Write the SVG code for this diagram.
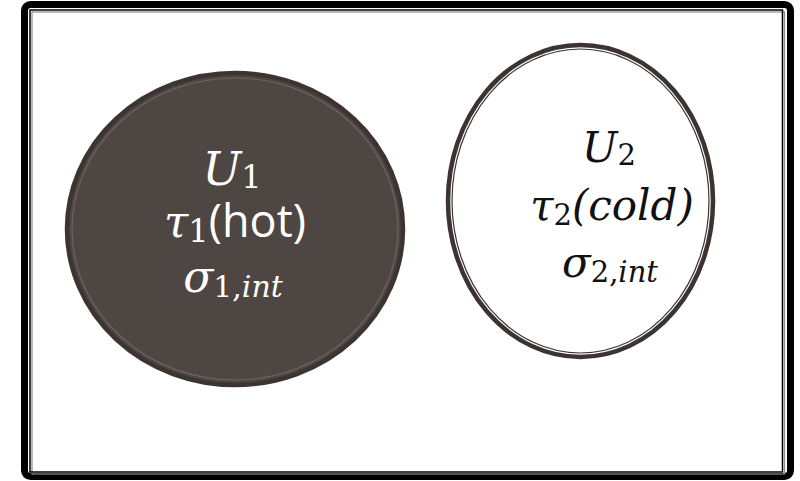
<svg xmlns="http://www.w3.org/2000/svg" width="800" height="481" viewBox="0 0 800 481">
  <style>
    .math { font-family: "DejaVu Serif", "Liberation Serif", serif; font-style: italic; }
    .up { font-style: normal; }
    .sans { font-family: "Open Sans", "Noto Sans", sans-serif; font-style: normal; }
    .lt { fill: #ffffff; }
    .dk { fill: #111111; }
  </style>
  <rect width="800" height="481" fill="#ffffff"/>
  <g id="frame">
    <rect x="24.5" y="4.5" width="766" height="472" rx="6" fill="#ffffff" stroke="#000000" stroke-width="7"/>
    <rect x="32" y="12" width="752.5" height="462" fill="none" stroke="#8a8a8a" stroke-width="1.2"/>
    <rect x="30" y="10" width="752.5" height="462" fill="none" stroke="#000000" stroke-width="1.5"/>
  </g>
  <g id="hot">
    <ellipse cx="235" cy="229" rx="168" ry="156" fill="#4e4642" stroke="#3b3431" stroke-width="4.5"/>
    <ellipse cx="235" cy="229" rx="163" ry="151" fill="none" stroke="#6e645e" stroke-width="1.2"/>
    <text class="math lt" x="232" y="185" font-size="46" text-anchor="middle">U<tspan class="up" font-size="32" dy="3">1</tspan></text>
    <text class="math lt" x="235" y="237" font-size="44" text-anchor="middle">τ<tspan class="up" font-size="32" dy="5">1</tspan><tspan class="sans" font-size="45" dy="-5">(hot)</tspan></text>
    <text class="math lt" x="233" y="292" font-size="44" text-anchor="middle">σ<tspan font-size="30" dy="5"><tspan class="up">1,</tspan>int</tspan></text>
  </g>
  <g id="cold">
    <ellipse cx="580.5" cy="201" rx="132.5" ry="156" fill="#ffffff" stroke="#3b3431" stroke-width="4.5"/>
    <ellipse cx="580.5" cy="201" rx="128.5" ry="152" fill="none" stroke="#3b3431" stroke-width="1.2"/>
    <text class="math dk" x="609" y="162" font-size="42" text-anchor="middle">U<tspan class="up" font-size="29" dy="3">2</tspan></text>
    <text class="math dk" x="612" y="220" font-size="42" text-anchor="middle">τ<tspan class="up" font-size="29" dy="5">2</tspan><tspan dy="-5">(cold)</tspan></text>
    <text class="math dk" x="610" y="277" font-size="42" text-anchor="middle">σ<tspan font-size="29" dy="5"><tspan class="up">2,</tspan>int</tspan></text>
  </g>
</svg>
